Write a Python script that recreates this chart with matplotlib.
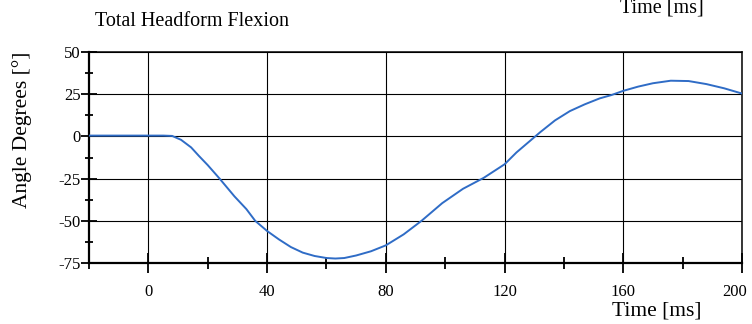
"""Total headform flexion angle over time, redrawn from a scanned test report."""
import matplotlib
matplotlib.use("Agg")
import matplotlib.pyplot as plt
import matplotlib.ticker as ticker
import matplotlib.transforms as mtransforms

plt.rcParams["font.family"] = ["Liberation Serif", "DejaVu Serif"]
plt.rcParams["axes.unicode_minus"] = False

# Values.
time_ms = [-20, -10, 0, 5, 8, 11, 14.4, 17, 20, 24, 29, 33, 36, 40, 44, 48, 52, 56,
           60, 63, 66, 70, 75, 80, 86, 92, 99, 106, 113, 120, 124, 128, 132, 137,
           142, 147, 152, 156, 160, 165, 170, 176, 182, 188, 194, 200]
angle_deg = [0.5, 0.5, 0.5, 0.5, 0.3, -2, -6.5, -11.5, -17, -25, -35.5, -43, -50, -56,
             -61, -65.5, -68.8, -70.8, -72, -72.3, -72, -70.5, -68, -64.5, -58, -50,
             -39.5, -31, -24.5, -16.5, -9.5, -3.5, 2.5, 9.5, 15, 19, 22.5, 24.5, 27,
             29.5, 31.5, 33, 32.8, 31, 28.5, 25.4]

x_ticks = [0, 40, 80, 120, 160, 200]
y_ticks = [-75, -50, -25, 0, 25, 50]

fig = plt.figure(figsize=(7.52, 3.24), dpi=100)
ax = fig.add_axes([0.1184, 0.188, 0.8683, 0.6515])

ax.plot(time_ms, angle_deg, color="#2f6cc6", lw=1.4, zorder=3)

ax.set_xlim(-20, 200)
ax.set_ylim(-75, 50)
ax.set_xticks(x_ticks)
ax.set_yticks(y_ticks)
ax.xaxis.set_minor_locator(ticker.MultipleLocator(20))
ax.yaxis.set_minor_locator(ticker.MultipleLocator(12.5))

ax.grid(which="major", color="black", lw=0.8)

for side in ["left", "bottom"]:
    ax.spines[side].set_linewidth(1.6)
for side in ["top", "right"]:
    ax.spines[side].set_linewidth(1.1)

ax.tick_params(axis="x", which="major", direction="inout", length=14, width=1.3,
               labelsize=12, pad=8)
ax.tick_params(axis="x", which="minor", direction="inout", length=9, width=1.3)
ax.tick_params(axis="y", which="major", direction="inout", length=12, width=1.3,
               labelsize=12, pad=0)
ax.tick_params(axis="y", which="minor", direction="inout", length=6, width=1.3)

# the last label sits against the page edge in the scan, nudge it inside
last = ax.get_xticklabels()[-1]
last.set_transform(last.get_transform()
                   + mtransforms.ScaledTranslation(-7 / 100, 0, fig.dpi_scale_trans))

ax.set_ylabel("Angle Degrees [°]", fontsize=15.5)
ax.yaxis.set_label_coords(-0.087, 0.63)

fig.text(0.255, 0.935, "Total Headform Flexion", fontsize=14.5, ha="center", va="center")
fig.text(0.873, 0.04, "Time [ms]", fontsize=15.5, ha="center", va="center")
fig.text(0.88, 0.975, "Time [ms]", fontsize=14.5, ha="center", va="center")

fig.savefig("out.png", dpi=100)
